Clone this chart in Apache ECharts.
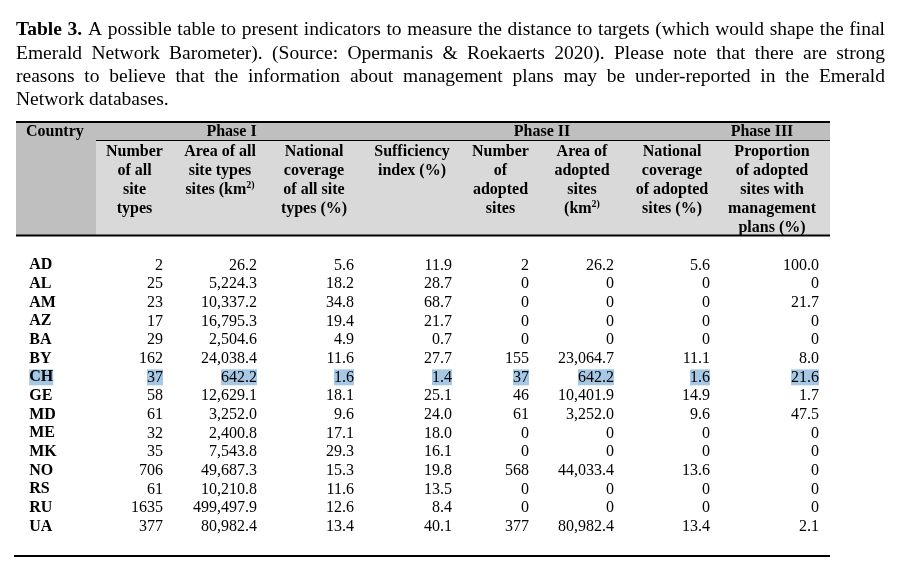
<!DOCTYPE html>
<html>
<head>
<meta charset="utf-8">
<script src="https://cdn.jsdelivr.net/npm/echarts@6/dist/echarts.min.js"></script>
<style>
html,body{margin:0;padding:0;background:#fff;}
#chart{width:906px;height:566px;}
</style>
</head>
<body>
<div id="chart"></div>
<script>
// ---------------- DATA ----------------
const countries = ['AD','AL','AM','AZ','BA','BY','CH','GE','MD','ME','MK','NO','RS','RU','UA'];
const numAllSites = [2,25,23,17,29,162,37,58,61,32,35,706,61,1635,377];
const areaAllSites = [26.2,5224.3,10337.2,16795.3,2504.6,24038.4,642.2,12629.1,3252.0,2400.8,7543.8,49687.3,10210.8,499497.9,80982.4];
const coverageAll = [5.6,18.2,34.8,19.4,4.9,11.6,1.6,18.1,9.6,17.1,29.3,15.3,11.6,12.6,13.4];
const sufficiency = [11.9,28.7,68.7,21.7,0.7,27.7,1.4,25.1,24.0,18.0,16.1,19.8,13.5,8.4,40.1];
const numAdopted = [2,0,0,0,0,155,37,46,61,0,0,568,0,0,377];
const areaAdopted = [26.2,0,0,0,0,23064.7,642.2,10401.9,3252.0,0,0,44033.4,0,0,80982.4];
const coverageAdopted = [5.6,0,0,0,0,11.1,1.6,14.9,9.6,0,0,13.6,0,0,13.4];
const mgmtPlans = [100.0,0,21.7,0,0,8.0,21.6,1.7,47.5,0,0,0,0,0,2.1];
const highlighted = ['CH'];

const phaseLabels = ['Phase I','Phase II','Phase III'];
const columnHeaders = [
  'Number\nof all\nsite\ntypes',
  'Area of all\nsite types\nsites (km{sup|2)}',
  'National\ncoverage\nof all site\ntypes (%)',
  'Sufficiency\nindex (%)',
  'Number\nof\nadopted\nsites',
  'Area of\nadopted\nsites\n(km{sup|2)}',
  'National\ncoverage\nof adopted\nsites (%)',
  'Proportion\nof adopted\nsites with\nmanagement\nplans (%)'
];
const titleLines = [
  'Table 3. A possible table to present indicators to measure the distance to targets (which would shape the final',
  'Emerald Network Barometer). (Source: Opermanis & Roekaerts 2020). Please note that there are strong',
  'reasons to believe that the information about management plans may be under-reported in the Emerald',
  'Network databases.'
];

// ---------------- LAYOUT / STYLE ----------------
const SERIF = '"Liberation Serif", "Times New Roman", serif';
const colKeys = ['country','c1','c2','c3','c4','c5','c6','c7','c8'];
const colShift = [-32, 11.3, 14.9, 21.4, 29, 15.6, 10.1, 15.7, 34.2];
const headerCenters = [134.5, 220, 314, 412, 500.5, 582, 672, 772];
const phaseCenters = [231.5, 542, 762];

function fmtInt(v){ return String(v); }
function fmtArea(v){ return v === 0 ? '0' : v.toLocaleString('en-US',{minimumFractionDigits:1,maximumFractionDigits:1}); }
function fmtPct(v){ return v === 0 ? '0' : v.toFixed(1); }

const columns = [
  [countries, String],
  [numAllSites, fmtInt],
  [areaAllSites, fmtArea],
  [coverageAll, fmtPct],
  [sufficiency, fmtPct],
  [numAdopted, fmtInt],
  [areaAdopted, fmtArea],
  [coverageAdopted, fmtPct],
  [mgmtPlans, fmtPct]
];

const cells = [];
columns.forEach((col, c) => {
  col[0].forEach((v, r) => {
    cells.push({ value: [c, r], text: col[1](v), hl: highlighted.indexOf(countries[r]) >= 0 });
  });
});

// ---------- Title (justified) ----------
const canvas = document.createElement('canvas');
const ctx = canvas.getContext('2d');
const TITLE_SIZE = 19.5;
const titleLeft = 16, titleRight = 885;
const titleY = [30, 53.5, 77, 100];
const graphics = [];
titleLines.forEach((line, li) => {
  const words = line.split(' ');
  const fonts = words.map((w, wi) => (li === 0 && wi < 2 ? 'bold ' : '') + TITLE_SIZE + 'px ' + SERIF);
  const widths = words.map((w, wi) => { ctx.font = fonts[wi]; return ctx.measureText(w).width; });
  ctx.font = TITLE_SIZE + 'px ' + SERIF;
  const spaceW = ctx.measureText(' ').width;
  const total = widths.reduce((a,b)=>a+b,0);
  const last = li === titleLines.length - 1;
  const gap = last ? spaceW : (titleRight - titleLeft - total) / (words.length - 1);
  let x = titleLeft;
  words.forEach((w, wi) => {
    graphics.push({ type:'text', x: x, y: titleY[li], silent:true,
      style:{ text: w, font: fonts[wi], fill:'#000', align:'left', verticalAlign:'middle' } });
    x += widths[wi] + gap;
  });
});

// ---------- Header block ----------
const tL = 16, tR = 830;
graphics.push(
  { type:'rect', shape:{x:tL, y:123, width:80, height:112}, style:{fill:'#bfbfbf'}, silent:true },
  { type:'rect', shape:{x:96, y:123, width:tR-96, height:17}, style:{fill:'#bfbfbf'}, silent:true },
  { type:'rect', shape:{x:96, y:141, width:tR-96, height:94}, style:{fill:'#d9d9d9'}, silent:true },
  { type:'line', shape:{x1:96, y1:140.5, x2:tR, y2:140.5}, style:{stroke:'#000', lineWidth:1}, silent:true },
  { type:'line', shape:{x1:tL, y1:122, x2:tR, y2:122}, style:{stroke:'#000', lineWidth:2}, silent:true },
  { type:'line', shape:{x1:tL, y1:235.5, x2:tR, y2:235.5}, style:{stroke:'#000', lineWidth:2}, silent:true },
  { type:'line', shape:{x1:14, y1:556, x2:tR, y2:556}, style:{stroke:'#000', lineWidth:2}, silent:true },
  { type:'text', x:26, y:132, silent:true, style:{ text:'Country', font:'bold 16px ' + SERIF, fill:'#000', align:'left', verticalAlign:'middle' } }
);
phaseLabels.forEach((p, i) => {
  graphics.push({ type:'text', x: phaseCenters[i], y:132, silent:true,
    style:{ text:p, font:'bold 16px ' + SERIF, fill:'#000', align:'center', verticalAlign:'middle' } });
});
columnHeaders.forEach((h, i) => {
  graphics.push({ type:'text', x: headerCenters[i], y: 142.5, silent:true,
    style:{ text:h, fontFamily: SERIF, fontSize:16, fontWeight:'bold', lineHeight:19, fill:'#000',
      align:'center', verticalAlign:'top',
      rich:{ sup:{ fontFamily: SERIF, fontSize:10, fontWeight:'bold', verticalAlign:'top', lineHeight:19, padding:[0,0,0,0] } } } });
});

// ---------------- CHART ----------------
const chart = echarts.init(document.getElementById('chart'), null, {renderer:'canvas'});
chart.setOption({
  backgroundColor:'#ffffff',
  animation:false,
  grid:{ left:16, right:76, top:256, bottom:30 },
  xAxis:{ type:'category', data: colKeys, show:false },
  yAxis:{ type:'category', data: countries, inverse:true, show:false },
  graphic: graphics,
  series:[{
    type:'custom',
    clip:false,
    silent:true,
    data: cells.map(c => c.value),
    renderItem: function(params, api){
      const c = api.value(0), r = api.value(1);
      const p = api.coord([c, r]);
      const cell = cells[params.dataIndex];
      return {
        type:'text',
        x: p[0] + colShift[c],
        y: p[1],
        style:{
          text: cell.text,
          font: (c === 0 ? 'bold ' : '') + '16px ' + SERIF,
          fill:'#000',
          align: c === 0 ? 'left' : 'right',
          verticalAlign:'middle',
          backgroundColor: cell.hl ? '#a6c8e4' : 'transparent',
          lineHeight: 16
        }
      };
    }
  }]
});
</script>
</body>
</html>
